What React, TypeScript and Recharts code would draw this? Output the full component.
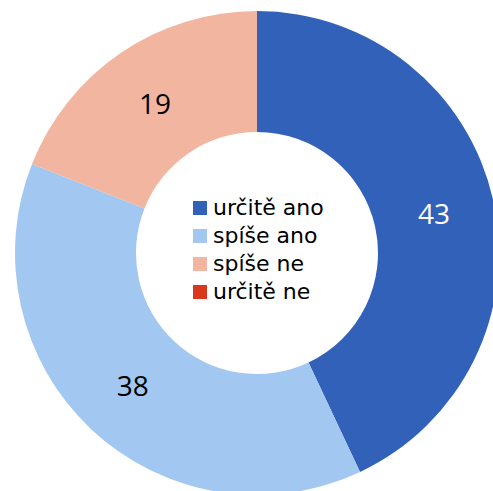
import React from 'react';
import { PieChart, Pie, Cell, Legend } from 'recharts';

const categories = ['určitě ano', 'spíše ano', 'spíše ne', 'určitě ne'];
const values = [43, 38, 19, 0];
const colors = ['#3161b8', '#a2c8f1', '#f2b6a0', '#d9381c'];
const labelColors = ['#ffffff', '#000000', '#000000', '#000000'];

const data = categories.map((name, i) => ({ name, value: values[i] }));

const RAD = Math.PI / 180;

const renderLabel = (props: any) => {
  const { cx, cy, midAngle, innerRadius, outerRadius, value, index } = props;
  if (!value) return null;
  const r = (innerRadius + outerRadius) / 2;
  const x = cx + r * Math.cos(-midAngle * RAD);
  const y = cy + r * Math.sin(-midAngle * RAD);
  return (
    <text
      x={x}
      y={y}
      fill={labelColors[index]}
      textAnchor="middle"
      dominantBaseline="central"
      fontFamily="'Open Sans', sans-serif"
      fontSize={28}
      fontWeight={500}
    >
      {value}
    </text>
  );
};

const renderLegend = () => (
  <div style={{ fontFamily: "'DejaVu Sans', sans-serif", fontSize: 22, color: '#000' }}>
    {categories.map((c, i) => (
      <div key={c} style={{ display: 'flex', alignItems: 'center', height: 28 }}>
        <span style={{ width: 14, height: 14, background: colors[i], display: 'inline-block', marginRight: 6, flexShrink: 0 }} />
        <span style={{ lineHeight: '28px' }}>{c}</span>
      </div>
    ))}
  </div>
);

export default function App() {
  return (
    <div style={{ position: 'absolute', left: 0, top: 0, width: 493, height: 491, background: '#fff' }}>
      <PieChart width={493} height={491} margin={{ top: 0, right: 0, bottom: 0, left: 0 }}>
        <Pie
          data={data}
          dataKey="value"
          nameKey="name"
          cx={257}
          cy={253}
          innerRadius={121}
          outerRadius={242}
          startAngle={90}
          endAngle={-270}
          stroke="none"
          label={renderLabel}
          labelLine={false}
          isAnimationActive={false}
        >
          {data.map((d, i) => (
            <Cell key={d.name} fill={colors[i]} />
          ))}
        </Pie>
        <Legend
          content={renderLegend}
          layout="vertical"
          wrapperStyle={{ position: 'absolute', left: 193, top: 194, width: 180, height: 120 }}
        />
      </PieChart>
    </div>
  );
}
